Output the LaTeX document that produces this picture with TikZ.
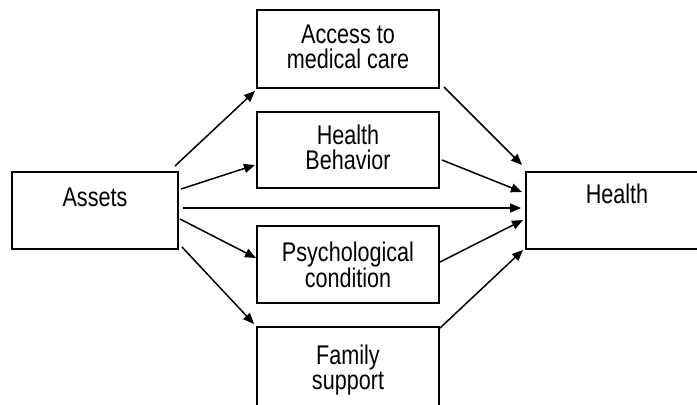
\documentclass[tikz,border=0pt]{standalone}
\usepackage{fontspec}
\setmainfont{Liberation Sans}[FakeStretch=0.8]
\usetikzlibrary{arrows.meta}

\begin{document}
\begin{tikzpicture}[x=1bp, y=-1bp,
    box/.style={draw, line width=1.8bp, inner sep=0pt, outer sep=0pt, anchor=north west, minimum width=182bp, minimum height=77bp},
    txt/.style={anchor=north, inner sep=0pt, align=center, font=\fontsize{27bp}{25bp}\selectfont},
    link/.style={-{Triangle[length=11bp, width=9bp]}, line width=1.5bp}]
    \useasboundingbox (0,0) rectangle (697,404);
    \clip (0,0) rectangle (697,404);
    % boxes, text set near the top of each
    \node[box, minimum width=166bp, label={[txt, yshift=-16bp]north:Assets}] (assets) at (12,172) {};
    \node[box, minimum height=78bp, label={[txt, yshift=-15bp]north:Access to\\medical care}] (access) at (257,10) {};
    \node[box, minimum height=76bp, label={[txt, yshift=-13bp]north:Health\\Behavior}] (behavior) at (257,112) {};
    \node[box, label={[txt, yshift=-16bp]north:Psychological\\condition}] (psych) at (257,226) {};
    \node[box, minimum height=80bp, label={[txt, yshift=-18bp]north:Family\\support}] (family) at (257,327) {};
    \node[box, label={[txt, yshift=-12bp]north:Health}] (health) at (526,172) {};
    % assets to the middle column
    \draw[link] ([shift={(-3,-6)}]assets.north east) -- ([shift={(-2,3)}]access.south west);
    \draw[link] ([shift={(3,-21.5)}]assets.east) -- ([shift={(-2,15)}]behavior.west);
    \draw[link] ([shift={(5,-2.5)}]assets.east) -- ([shift={(-5,-2.5)}]health.west);
    \draw[link] ([shift={(2,8.5)}]assets.east) -- ([shift={(-1,-6.5)}]psych.west);
    \draw[link] ([shift={(4,-2)}]assets.south east) -- ([shift={(-3,-3)}]family.north west);
    % middle column to health
    \draw[link] ([shift={(5,-1)}]access.south east) -- ([shift={(-4,-7)}]health.north west);
    \draw[link] ([shift={(3,10)}]behavior.east) -- ([shift={(-4,-18.5)}]health.west);
    \draw[link] ([shift={(1,-2.5)}]psych.east) -- ([shift={(-3,9.5)}]health.west);
    \draw[link] ([shift={(1,1)}]family.north east) -- ([shift={(-3,1)}]health.south west);
\end{tikzpicture}
\end{document}
